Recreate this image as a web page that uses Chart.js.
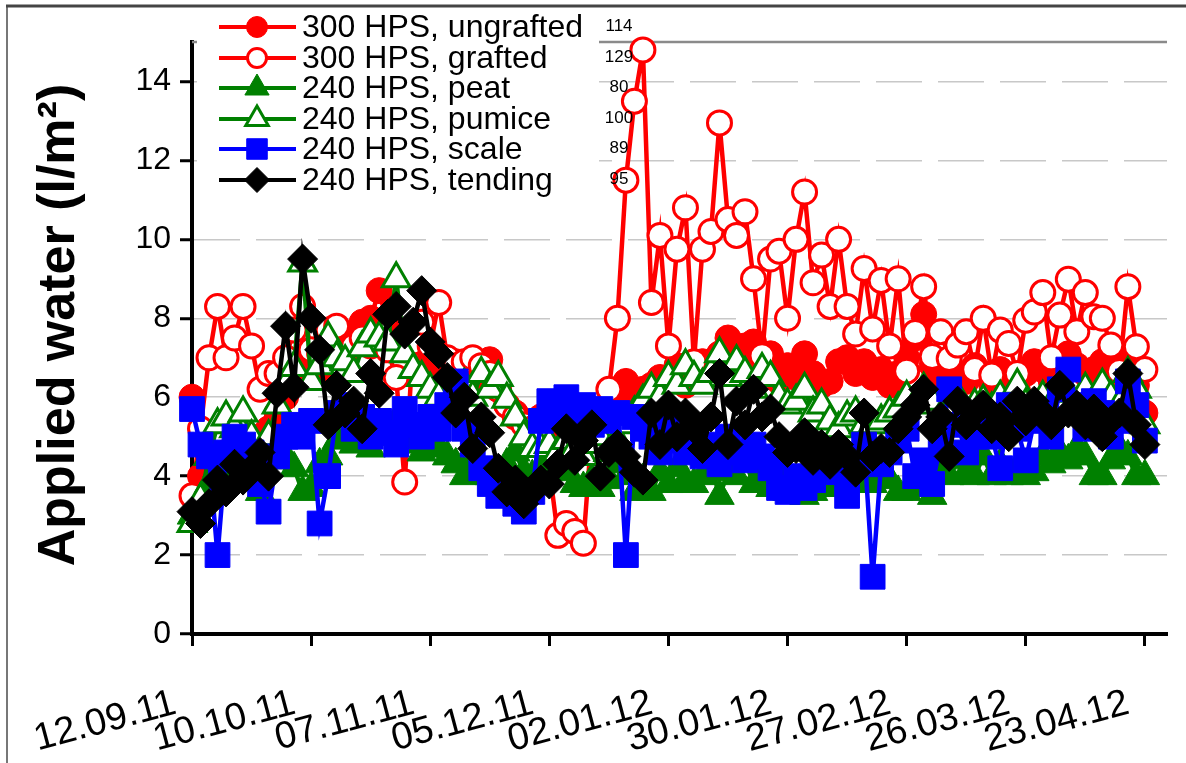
<!DOCTYPE html>
<html>
<head>
<meta charset="utf-8">
<script src="https://cdn.jsdelivr.net/npm/chart.js@4.4.1/dist/chart.umd.min.js"></script>
<style>
  html, body { margin: 0; padding: 0; background: #fff; }
  #wrap { position: relative; width: 1186px; height: 763px; }
</style>
</head>
<body>
<div id="wrap"><canvas id="myChart" width="1186" height="763"></canvas></div>
<script>
// days after 12.09.11, one reading every second day
const days = Array.from({ length: 113 }, (_, i) => i * 2);

const tickDays = [0, 28, 56, 84, 112, 140, 168, 196, 224];
const tickLabels = ['12.09.11', '10.10.11', '07.11.11', '05.12.11', '02.01.12',
  '30.01.12', '27.02.12', '26.03.12', '23.04.12'];
const yTicks = [0, 2, 4, 6, 8, 10, 12, 14];

const seriesNames = ['300 HPS, ungrafted', '300 HPS, grafted', '240 HPS, peat',
  '240 HPS, pumice', '240 HPS, scale', '240 HPS, tending'];
const seriesTotals = ['114', '129', '80', '100', '89', '95'];

// applied water, l/m2
const ungrafted = [
  6.0, 4.0, 4.5, 4.2, 4.6, 4.8, 4.5, 4.9, 5.0, 5.2,
  5.6, 6.0, 6.4, 6.8, 6.5, 6.6, 7.0, 7.3, 7.6, 7.5,
  7.9, 8.0, 8.7, 7.8, 7.5, 7.2, 7.6, 7.4, 7.0, 6.8,
  6.6, 6.9, 6.8, 6.5, 6.7, 6.95, 6.2, 5.8, 5.6, 5.4,
  5.3, 5.5, 5.2, 5.0, 5.3, 5.5, 5.4, 5.6, 5.5, 5.6,
  6.0, 6.4, 5.9, 6.2, 6.3, 6.5, 6.4, 6.8, 6.3, 6.6,
  6.9, 6.7, 7.1, 7.5, 7.0, 7.3, 7.4, 6.9, 7.1, 6.4,
  6.8, 6.5, 7.1, 6.6, 6.3, 6.4, 6.9, 7.0, 6.6, 6.9,
  6.5, 6.7, 6.3, 6.6, 7.0, 7.5, 8.1, 6.8, 6.5, 6.9,
  6.6, 6.4, 6.8, 6.6, 6.3, 6.7, 6.5, 6.2, 6.6, 6.9,
  6.7, 6.4, 6.9, 7.1, 6.8, 6.6, 6.7, 6.9, 6.5, 6.7,
  7.0, 6.3, 5.6
];
const grafted = [
  3.5, 5.2, 7.0, 8.3, 7.0, 7.5, 8.3, 7.3, 6.2, 6.6,
  6.6, 7.0, 7.7, 8.3, 7.2, 7.1, 7.7, 7.8, 7.1, 7.3,
  7.5, 7.3, 7.6, 7.2, 6.5, 3.85, 7.4, 7.9, 7.3, 8.4,
  7.0, 6.8, 6.9, 7.0, 6.8, 6.6, 6.2, 5.8, 5.5, 5.3,
  5.2, 5.0, 4.2, 2.5, 2.8, 2.6, 2.3, 5.2, 5.6, 6.2,
  8.0, 11.5, 13.5, 14.8, 8.4, 10.1, 7.3, 9.75, 10.8, 6.9,
  9.75, 10.2, 12.95, 10.5, 10.1, 10.7, 9.0, 7.05, 9.5, 9.7,
  8.0, 10.0, 11.2, 8.9, 9.6, 8.3, 10.0, 8.3, 7.6, 9.26,
  7.73, 8.96, 7.3, 9.0, 6.66, 7.64, 8.8, 7.03, 7.66, 6.98,
  7.32, 7.66, 6.7, 8.0, 6.56, 7.7, 7.36, 6.6, 7.95, 8.16,
  8.65, 7.0, 8.08, 8.99, 7.66, 8.65, 8.04, 8.0, 7.32, 6.65,
  8.8, 7.28, 6.7
];
const peat = [
  3.0, 3.3, 3.8, 4.2, 4.5, 4.8, 4.3, 4.0, 3.6, 4.4,
  4.6, 4.5, 4.2, 3.6, 3.7, 4.3, 4.5, 4.9, 5.0, 4.8,
  5.1, 4.7, 5.0, 5.2, 5.4, 5.0, 4.8, 4.6, 4.8, 4.7,
  4.5, 4.3, 4.0, 4.5, 4.2, 4.0, 3.8, 4.3, 4.6, 4.1,
  4.0, 4.2, 4.4, 4.6, 4.1, 3.8, 3.7, 3.9, 3.7, 3.9,
  4.3, 4.0, 3.6, 3.9, 3.6, 4.1, 3.8, 4.2, 3.9, 3.8,
  4.0, 4.3, 3.5, 4.1, 4.0, 4.4, 3.8, 4.0, 3.7, 4.1,
  3.6, 3.8, 3.5, 3.6, 4.0, 3.7, 3.7, 4.2, 3.9, 4.0,
  3.8, 4.2, 3.9, 3.6, 3.6, 3.7, 3.7, 3.5, 4.2, 4.0,
  4.4, 4.1, 4.0, 4.5, 4.0, 4.3, 4.0, 4.2, 4.0, 4.1,
  4.5, 4.3, 4.6, 4.4, 4.7, 4.5, 4.0, 4.0, 4.4, 4.7,
  4.5, 4.0, 4.0
];
const pumice = [
  2.8, 3.4, 4.5, 5.3, 5.5, 5.2, 5.6, 5.0, 4.4, 5.0,
  5.8, 6.3, 6.75, 9.4, 6.4, 6.8, 7.5, 7.0, 6.9, 6.6,
  7.25, 7.6, 7.5, 7.4, 9.0, 7.1, 6.7, 6.5, 6.2, 6.0,
  5.7, 6.0, 6.3, 6.0, 6.6, 6.2, 6.5, 5.95, 5.5, 5.0,
  4.7, 4.7, 4.8, 4.6, 4.9, 4.7, 4.5, 4.8, 5.0, 4.6,
  4.9, 5.3, 5.6, 5.9, 6.2, 6.0, 6.5, 6.3, 6.8, 6.5,
  6.3, 6.6, 7.1, 6.5, 6.9, 6.6, 6.2, 6.7, 6.5, 6.0,
  5.8, 5.9, 6.2, 5.6, 5.8, 5.4, 5.2, 5.5, 5.6, 5.3,
  5.3, 5.4, 5.6, 5.7, 6.0, 5.8, 6.2, 5.9, 5.5, 5.7,
  6.0, 5.6, 5.8, 5.9, 5.7, 6.0, 5.6, 6.3, 5.8, 5.6,
  6.0, 5.8, 5.9, 6.1, 5.7, 6.2, 5.9, 6.3, 6.0, 5.8,
  6.6, 6.2, 5.3
];
const scale = [
  5.7, 4.8, 4.5, 2.0, 4.6, 5.0, 4.8, 4.6, 3.8, 3.1,
  4.5, 5.0, 5.3, 5.0, 5.4, 2.8, 4.0, 5.6, 5.8, 5.2,
  5.5, 5.0, 5.4, 5.1, 4.8, 5.7, 5.3, 5.0, 5.5, 5.2,
  5.8, 6.4, 5.2, 4.8, 4.2, 3.8, 3.5, 3.8, 3.3, 3.1,
  3.6, 5.4, 5.9, 5.6, 6.0, 5.5, 5.8, 5.3, 5.7, 5.4,
  5.6, 2.0, 5.5, 5.2, 5.0, 4.6, 5.3, 4.9, 4.6, 5.0,
  4.5, 4.8, 4.3, 5.0, 4.6, 4.4, 4.8, 4.5, 4.2, 3.7,
  3.6, 4.0, 3.7, 3.9, 4.3, 4.6, 4.1, 3.5, 4.4, 4.8,
  1.45, 4.3, 4.6, 4.9, 5.2, 4.0, 4.4, 3.8, 4.8, 6.2,
  5.3, 4.6, 5.0, 5.4, 5.0, 4.2, 5.8, 5.2, 4.4, 5.4,
  5.6, 5.0, 6.2, 6.7, 5.8, 5.2, 5.9, 5.6, 5.0, 5.4,
  6.4, 5.8, 4.9
];
const tending = [
  3.1, 2.8, 3.3, 3.9, 3.6, 4.3, 3.9, 4.2, 4.6, 4.0,
  6.1, 7.8, 6.25, 9.5, 8.0, 7.2, 5.3, 6.3, 5.6, 5.9,
  5.2, 6.6, 6.1, 8.1, 8.3, 7.6, 7.9, 8.7, 7.4, 7.1,
  6.5, 5.6, 6.0, 4.7, 5.5, 5.1, 4.2, 3.6, 3.9, 3.3,
  3.6, 3.9, 3.8, 4.3, 5.2, 4.4, 4.9, 5.3, 4.0, 4.6,
  4.8, 4.5, 4.1, 3.9, 5.6, 4.8, 5.8, 5.0, 5.6, 5.2,
  4.7, 5.5, 6.6, 4.8, 5.9, 5.3, 6.2, 5.5, 5.7, 5.0,
  4.6, 4.7, 5.1, 4.4, 4.8, 4.3, 4.8, 4.5, 4.1, 5.6,
  4.5, 4.7, 4.6, 5.2, 5.5, 5.8, 6.2, 5.2, 5.5, 4.5,
  5.9, 5.3, 5.6, 5.8, 5.2, 5.5, 5.0, 5.9, 5.4, 5.9,
  5.6, 5.3, 6.3, 5.6, 5.8, 5.3, 5.7, 5.0, 5.4, 5.6,
  6.6, 5.3, 4.8
];

const FONT = "'Liberation Sans', Arial, sans-serif";
const pts = vals => days.map((d, i) => ({ x: d, y: vals[i] }));

const styles = [
  { color: '#ff0000', fill: '#ff0000', shape: 'circle', r: 13, bw: 1, lr: 10.5 },
  { color: '#ff0000', fill: '#ffffff', shape: 'circle', r: 12, bw: 3, lr: 9.5 },
  { color: '#008000', fill: '#008000', shape: 'triangle', r: 17, bw: 1, lr: 14 },
  { color: '#008000', fill: '#ffffff', shape: 'triangle', r: 16, bw: 3, lr: 13 },
  { color: '#0000ff', fill: '#0000ff', shape: 'rect', r: 17.5, bw: 1, lr: 14.5 },
  { color: '#000000', fill: '#000000', shape: 'rectRot', r: 15, bw: 1, lr: 12.5 }
];
const values = [ungrafted, grafted, peat, pumice, scale, tending];

const datasets = values.map((v, k) => ({
  label: seriesNames[k],
  data: pts(v),
  borderColor: styles[k].color,
  borderWidth: 4.5,
  pointStyle: styles[k].shape,
  pointRadius: styles[k].r,
  pointBackgroundColor: styles[k].fill,
  pointBorderColor: styles[k].color,
  pointBorderWidth: styles[k].bw,
  tension: 0,
  clip: false,
  order: 6 - k
}));

const decor = {
  id: 'decor',
  beforeDraw(chart) {
    const c = chart.ctx;
    c.save();
    c.fillStyle = '#fff';
    c.fillRect(0, 0, chart.width, chart.height);
    c.restore();
  },
  beforeDatasetsDraw(chart) {
    const c = chart.ctx, a = chart.chartArea;
    c.save();
    c.strokeStyle = '#8a8a8a';
    c.lineWidth = 2.5;
    c.beginPath();
    c.moveTo(a.left, a.top);
    c.lineTo(a.right, a.top);
    c.stroke();
    c.restore();
  },
  afterDraw(chart) {
    const c = chart.ctx;
    const xs = chart.scales.x;
    c.save();

    // outer frame
    c.strokeStyle = '#777';
    c.lineWidth = 2;
    c.beginPath();
    c.moveTo(7, 763);
    c.lineTo(7, 6);
    c.stroke();
    c.strokeStyle = '#444';
    c.lineWidth = 3;
    c.beginPath();
    c.moveTo(6, 6);
    c.lineTo(1186, 6);
    c.stroke();

    // date labels
    c.fillStyle = '#000';
    c.font = '38px ' + FONT;
    c.textAlign = 'right';
    c.textBaseline = 'alphabetic';
    tickDays.forEach((d, i) => {
      const x = xs.getPixelForValue(d);
      c.save();
      c.translate(x - 14, 713);
      c.rotate(-15 * Math.PI / 180);
      c.fillText(tickLabels[i], 0, 0);
      c.restore();
    });

    // y axis title
    c.save();
    c.translate(60, 325);
    c.rotate(-Math.PI / 2);
    c.font = 'bold 52px ' + FONT;
    c.textAlign = 'center';
    c.textBaseline = 'middle';
    c.fillText('Applied water (l/m\u00b2)', 0, 0);
    c.restore();

    // legend
    c.fillStyle = '#fff';
    c.fillRect(197, 9, 402, 195);
    const rows = [27, 58, 88, 119, 149, 180];
    rows.forEach((y, k) => {
      const s = styles[k];
      c.strokeStyle = s.color;
      c.lineWidth = 4;
      c.beginPath();
      c.moveTo(219, y);
      c.lineTo(296, y);
      c.stroke();
      c.fillStyle = s.fill;
      c.lineWidth = s.bw;
      Chart.helpers.drawPoint(c, { pointStyle: s.shape, radius: s.lr, borderWidth: s.bw, rotation: 0 }, 257, y);
      c.fillStyle = '#000';
      c.font = '32px ' + FONT;
      c.textAlign = 'left';
      c.textBaseline = 'middle';
      c.fillText(seriesNames[k], 302, y + 1);
      c.font = '17px ' + FONT;
      c.textAlign = 'center';
      c.fillText(seriesTotals[k], 619, rows[k] - 1);
    });
    c.restore();
  }
};

new Chart(document.getElementById('myChart'), {
  type: 'line',
  data: { datasets: datasets },
  options: {
    responsive: false,
    animation: false,
    events: [],
    layout: { padding: { top: 42, right: 0, bottom: 0, left: 0 } },
    plugins: { legend: { display: false }, tooltip: { enabled: false } },
    scales: {
      x: {
        type: 'linear',
        min: 0,
        max: 229.2,
        afterBuildTicks: s => { s.ticks = tickDays.map(v => ({ value: v })); },
        afterFit: s => { s.height = 129; },
        ticks: { display: false },
        grid: { drawOnChartArea: false, drawTicks: true, tickLength: 12, tickWidth: 3, tickColor: '#000' },
        border: { color: '#000', width: 4 }
      },
      y: {
        min: 0,
        max: 15,
        afterBuildTicks: s => { s.ticks = yTicks.map(v => ({ value: v })); },
        afterFit: s => { s.width = 192; },
        ticks: { color: '#000', padding: 9, font: { family: FONT, size: 32 } },
        grid: {
          color: ctx => (ctx.tick && ctx.tick.value === 0 ? 'rgba(0,0,0,0)' : '#c8c8c8'),
          lineWidth: 1.5,
          drawTicks: true,
          tickLength: 12,
          tickWidth: 3,
          tickColor: '#000'
        },
        border: { color: '#000', width: 4, dash: [46, 16] }
      }
    }
  },
  plugins: [decor]
});
</script>
</body>
</html>
